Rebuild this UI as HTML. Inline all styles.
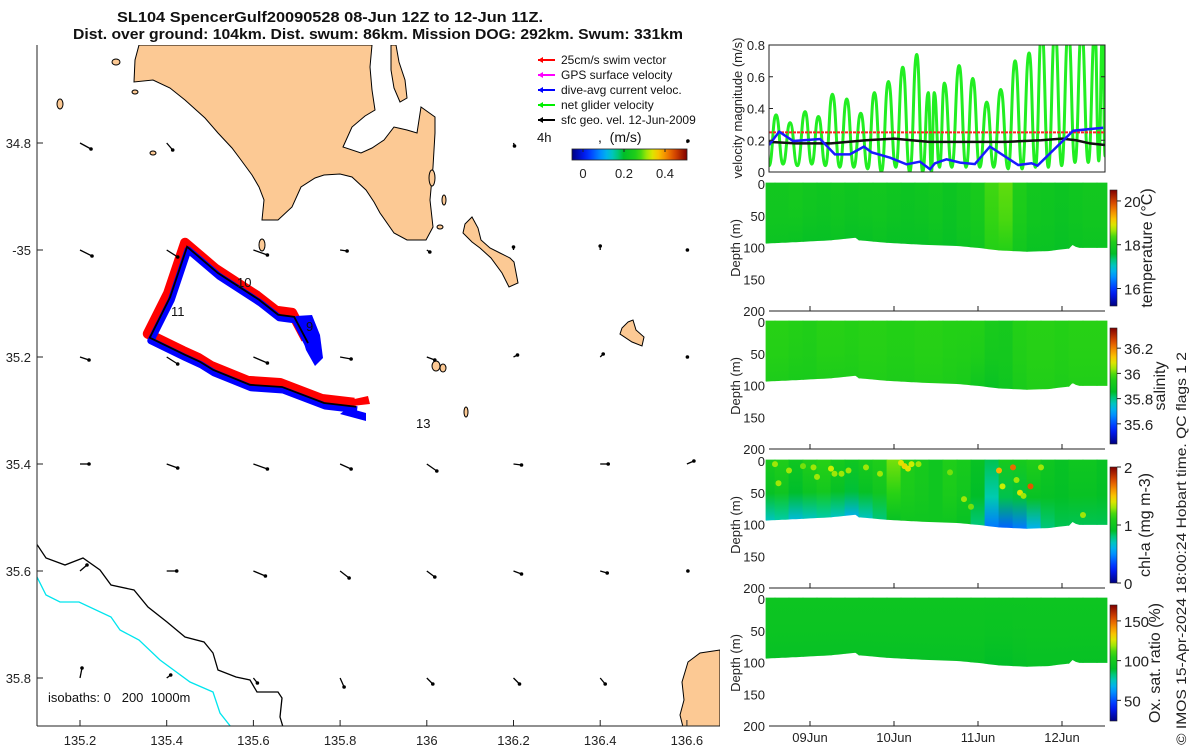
<!DOCTYPE html>
<html><head><meta charset="utf-8">
<style>
html,body{margin:0;padding:0;background:#fff;}
svg{display:block;font-family:"Liberation Sans",sans-serif;}
.tk{font-size:13px;fill:#222;}
</style></head>
<body>
<svg id="root" width="1200" height="750" viewBox="0 0 1200 750" xmlns="http://www.w3.org/2000/svg">
<defs>
  <clipPath id="mapclip"><rect x="37" y="45" width="683" height="681"/></clipPath>
  <clipPath id="velclip"><rect x="769" y="45" width="336" height="127"/></clipPath>
  <linearGradient id="jetH" x1="0" x2="1" y1="0" y2="0"></linearGradient>
  <linearGradient id="jetV" x1="0" x2="0" y1="1" y2="0"></linearGradient>
</defs>
<g font-weight="bold" font-size="14.5" fill="#111">
  <text x="330" y="22" text-anchor="middle" textLength="426" lengthAdjust="spacingAndGlyphs">SL104 SpencerGulf20090528 08-Jun 12Z to 12-Jun 11Z.</text>
  <text x="378" y="39" text-anchor="middle" textLength="610" lengthAdjust="spacingAndGlyphs">Dist. over ground: 104km. Dist. swum: 86km. Mission DOG: 292km. Swum: 331km</text>
</g>
<g id="map"></g>
<g id="vel"></g>
<g id="sections"></g>
</svg>
<script>
// ---------------- DATA ----------------
const lonTicks=[135.2,135.4,135.6,135.8,136,136.2,136.4,136.6];
const lonTickLabels=["135.2","135.4","135.6","135.8","136","136.2","136.4","136.6"];
const latTicks=[34.8,35,35.2,35.4,35.6,35.8];
const latTickLabels=["34.8","-35","35.2","35.4","35.6","35.8"];
const trackLon=[135.726,135.694,135.657,135.613,135.518,135.447,135.408,135.361,135.442,135.477,135.507,135.592,135.666,135.763,135.837];
const trackLat=[35.174,35.125,35.121,35.093,35.043,34.994,35.088,35.164,35.196,35.209,35.224,35.252,35.256,35.286,35.293];
const gridLon=[135.2,135.4,135.6,135.8,136,136.2,136.4,136.6];
const gridLat=[34.8,35,35.2,35.4,35.6,35.8];
const vecU=[[11,6,null,null,null,1,null,1],[12,11,14,7,3,0,0,0.5],[9,11,14,11,8,4,3,0.5],[9,11,14,11,10,8,8,7],[7,10,12,9,8,8,7,1],[2,4,4,4,6,6,5,null]];
const vecV=[[6,7,null,null,null,3,null,-2],[6,7,5,1,2,-3,-4,0],[3,7,6,2,3,-2,-3,0],[0,4,5,5,7,1,0,-3],[-6,0,5,7,6,3,2,0],[-10,-3,5,9,6,6,6,null]];
const vhours=[12.3,15.2,19.2,26.9,31.1,35.4,39.4,41.6,46.9,51.6,55.4,58.3,59.7,63,66.9,71.1,75.4,83.5,87.3,89,92.1,99.2,107.8];
const vblue=[0.17,0.254,0.195,0.208,0.111,0.111,0.16,0.124,0.09,0.048,0.065,0.017,0.055,0.08,0.059,0.05,0.16,0.044,0.055,0.04,0.107,0.26,0.279];
const peakH=[14.3,18.3,22.6,26.4,30.4,34.5,38.5,42.4,46.4,50.5,54.5,57.8,59.5,62.4,66.6,70.5,74.5,78.5,82.6,86.6,90.2,94,97.8,101.6,105.4,107.6];
const peakV=[0.36,0.31,0.38,0.35,0.49,0.46,0.37,0.50,0.57,0.66,0.74,0.50,0.50,0.56,0.67,0.59,0.44,0.52,0.70,0.75,0.9,0.9,0.9,0.9,0.9,0.9];
const troughH=[16.3,20.4,24.5,28.4,32.5,36.5,40.5,44.4,48.5,52.5,56.2,58.7,61,64.5,68.6,72.5,76.5,80.6,84.6,88.4,92.1,95.9,99.7,103.5,106.5];
const troughV=[0.05,0.04,0.05,0.04,0.03,0.03,0.02,0.0,0.03,0.0,0.0,0.0,0.03,0.03,0.03,0.03,0.03,0.02,0.02,0.03,0.03,0.04,0.06,0.06,0.07];
const blackH=[12.3,20,30,40,48,58,66,80,90,96,100,104,108.3];
const blackV=[0.19,0.18,0.18,0.2,0.21,0.19,0.19,0.19,0.2,0.21,0.2,0.18,0.17];
const swimSpeed=0.25;
const velTicks=[0,0.2,0.4,0.6,0.8];
const dateTicks=[24,48,72,96];
const dateLabels=["09Jun","10Jun","11Jun","12Jun"];
const bottomH=[12,20,30,37,38,46,56,66,72,78,86,92,98,98.6,100.5,108.5];
const bottomD=[93,91,88,84,88,92,95,97,100,104,106,105,101,94,100,100];
const colH=[12,16,20,24,28,32,36,40,44,48,52,56,60,64,68,72,76,80,84,88,92,96,100,104,108];
const tempTop=[17.9,17.9,17.95,17.9,17.85,17.9,17.85,17.9,17.9,17.85,17.8,17.85,17.9,17.8,17.9,18.0,18.35,18.45,18.1,17.9,17.85,17.8,17.85,17.9,17.9];
const tempBot=[17.8,17.8,17.75,17.7,17.7,17.75,17.7,17.7,17.75,17.7,17.7,17.7,17.75,17.7,17.8,17.85,18.2,18.2,17.9,17.75,17.75,17.7,17.75,17.8,17.8];
const salTop=[35.97,35.97,35.96,35.95,35.97,35.97,35.96,35.97,35.97,35.96,35.96,35.97,35.97,35.96,35.96,35.96,35.93,35.92,35.96,35.97,35.97,35.96,35.97,35.97,35.97];
const salBot=[35.94,35.94,35.93,35.93,35.94,35.94,35.94,35.95,35.95,35.94,35.94,35.95,35.95,35.94,35.93,35.9,35.88,35.9,35.93,35.95,35.95,35.94,35.95,35.95,35.95];
const chlTop=[1.05,1.1,1.0,1.1,1.15,1.05,1.0,1.05,1.1,1.25,1.1,1.05,1.0,1.1,1.05,0.95,0.85,1.05,1.05,1.1,1.0,0.95,1.0,1.0,0.95];
const chlBot=[0.7,0.75,0.65,0.7,0.75,0.7,0.6,0.7,0.8,0.95,1.0,1.0,1.0,1.0,0.95,0.8,0.45,0.4,0.45,0.6,0.8,0.85,0.85,0.85,0.85];
const oxTop=[96,96,96,96,96,96,96,96,96,96,96,96,96,96,96,96,96,96,96,96,96,96,96,96,96];
const oxBot=[93,93,93,93,93,93,93,93,93,93,93,93,93,93,93,93,90,90,92,93,93,93,93,93,93];
const chlDotH=[14,15,18,22,25,26,30,31,33,35,40,44,50,51,52,53,55,64,68,70,78,79,82,83,84,85,87,90,102];
const chlDotD=[5,35,15,8,10,25,12,20,20,15,10,20,3,8,12,5,5,18,60,72,15,40,10,30,50,55,40,10,85];
const chlDotV=[1.3,1.3,1.3,1.25,1.3,1.3,1.35,1.3,1.3,1.3,1.3,1.3,1.4,1.45,1.4,1.35,1.3,1.25,1.3,1.25,1.55,1.35,1.7,1.3,1.4,1.3,1.75,1.3,1.3];
const tempCb=[15.2,20.5],tempCbTicks=[16,18,20];
const salCb=[35.44,36.36],salCbTicks=[35.6,35.8,36,36.2];
const chlCb=[0,2],chlCbTicks=[0,1,2];
const oxCb=[24,170],oxCbTicks=[50,100,150];
const legendLabels=["25cm/s swim vector","GPS surface velocity","dive-avg current veloc.","net glider velocity","sfc geo. vel. 12-Jun-2009"];
const legendColors=["#ff0000","#ff00ff","#0000ff","#00ee00","#000000"];
const speedCbTicks=[0,0.2,0.4];

// ---------------- HELPERS ----------------
const NS="http://www.w3.org/2000/svg";
function el(tag,attrs,parent){const e=document.createElementNS(NS,tag);for(const k in attrs)e.setAttribute(k,attrs[k]);parent.appendChild(e);return e;}
const stops=[[0,[0,0,128]],[0.12,[0,30,255]],[0.28,[0,170,255]],[0.37,[0,205,170]],[0.45,[0,190,40]],[0.58,[40,210,20]],[0.68,[210,240,0]],[0.76,[255,190,0]],[0.88,[225,80,0]],[1,[128,0,0]]];
function cmap(f){f=Math.max(0,Math.min(1,f));for(let i=1;i<stops.length;i++){if(f<=stops[i][0]){const a=stops[i-1],b=stops[i];const t=(f-a[0])/(b[0]-a[0]);const c=a[1].map((v,j)=>Math.round(v+(b[1][j]-v)*t));return `rgb(${c[0]},${c[1]},${c[2]})`;}}return "rgb(128,0,0)";}
['jetH','jetV'].forEach(id=>{const g=document.getElementById(id);for(let i=0;i<=20;i++){el('stop',{offset:(i/20),'stop-color':cmap(i/20)},g);}});

const mx=lon=>80+(lon-135.2)/0.2*86.7;
const my=lat=>143+(lat-34.8)/0.2*107;
const map=document.getElementById('map');
const mc=el('g',{'clip-path':'url(#mapclip)'},map);

const landStyle={fill:'#fcc994',stroke:'#000','stroke-width':1};
let p=el('polygon',Object.assign({points:"139,45 135,60 134,82 153,80 170,88 185,100 205,118 218,133 232,148 241,160 252,175 259,187 264,200 262,220 278,220 292,207 301,187 315,178 324,175 340,174 352,177 366,190 374,202 380,213 394,233 407,240 426,240 433,227 430,200 433,167 435,133 435,117 421,107 417,133 407,130 394,127 384,140 372,148 361,153 343,147 352,127 365,116 375,110 372,90 370,67 372,45"},landStyle),mc);

p=el('polygon',Object.assign({points:"391,45 396,45 399,62 405,80 407,98 400,102 394,88 391,70"},landStyle),mc);

p=el('polygon',Object.assign({points:"463,233 465,224 472,217 478,228 481,240 490,248 500,253 510,258 514,262 518,283 509,287 502,273 491,258 480,248 472,242"},landStyle),mc);

p=el('polygon',Object.assign({points:"628,322 633,320 636,330 644,337 642,346 632,342 620,334 622,328"},landStyle),mc);

p=el('polygon',Object.assign({points:"683,727 680,715 684,700 682,682 688,662 700,653 720,650 720,727"},landStyle),mc);

[[60,104,3,5],[116,62,4,3],[153,153,3,2],[135,92,3,2],[436,366,4,5],[443,368,3,4],[262,245,3,6],[466,412,2,5],[432,178,3,8],[444,200,2,5],[440,227,3,2]].forEach(e=>{const q=el('ellipse',Object.assign({cx:e[0],cy:e[1],rx:e[2],ry:e[3]},landStyle),mc);});
const iso0=el('polyline',{points:"36,543 46,558 65,565 83,558 100,570 111,585 134,590 148,607 167,622 185,637 204,642 213,653 218,670 236,677 250,680 257,692 278,692 282,698 280,717 283,727",fill:'none',stroke:'#000','stroke-width':1.3},mc);

const iso1=el('polyline',{points:"36,575 46,595 60,602 79,602 111,617 120,630 139,640 160,660 190,682 213,692 220,713 231,727",fill:'none',stroke:'#00e5ee','stroke-width':1.3},mc);

const tpts=trackLon.map((l,i)=>[mx(l),my(trackLat[i])]);
const ptsStr=(dx,dy)=>tpts.map(q=>(q[0]+dx)+','+(q[1]+dy)).join(' ');
let t=el('polyline',{points:ptsStr(-2,-4),fill:'none',stroke:'#ff0000','stroke-width':10,'stroke-linejoin':'round'},mc);

t=el('polyline',{points:ptsStr(1,3),fill:'none',stroke:'#0000ff','stroke-width':7,'stroke-linejoin':'round'},mc);

t=el('polygon',{points:"296,316 312,315 320,335 323,358 315,366 306,350",fill:'#0000ff'},mc);

t=el('polygon',{points:"350,400 368,396 370,404 352,406",fill:'#ff0000'},mc);

t=el('polygon',{points:"348,408 366,413 366,421 340,414",fill:'#0000ff'},mc);

t=el('polyline',{points:ptsStr(0,0),fill:'none',stroke:'#000','stroke-width':1.8},mc);

[["10",237,287],["11",171,316],["9",306,331],["13",416,428]].forEach(d=>{const q=el('text',{x:d[1],y:d[2],'font-size':13,fill:'#111'},mc);q.textContent=d[0];});
gridLat.forEach((la,r)=>gridLon.forEach((lo,c)=>{const u=vecU[r][c],v=vecV[r][c];if(u===null)return;const x0=mx(lo),y0=my(la);const g=el('g',{},mc);el('line',{x1:x0,y1:y0,x2:x0+u,y2:y0+v,stroke:'#000','stroke-width':1.3},g);el('circle',{cx:x0+u,cy:y0+v,r:1.8,fill:'#000'},g);}));
el('line',{x1:37,y1:45,x2:37,y2:726,stroke:'#222','stroke-width':1},map);
el('line',{x1:37,y1:726,x2:720,y2:726,stroke:'#222','stroke-width':1},map);
lonTicks.forEach((v,i)=>{el('line',{x1:mx(v),y1:726,x2:mx(v),y2:720,stroke:'#222'},map);const q=el('text',{x:mx(v),y:745,'text-anchor':'middle',class:'tk'},map);q.textContent=lonTickLabels[i];});
latTicks.forEach((v,i)=>{el('line',{x1:37,y1:my(v),x2:43,y2:my(v),stroke:'#222'},map);const q=el('text',{x:31,y:my(v)+5,'text-anchor':'end',class:'tk'},map);q.textContent=latTickLabels[i];});
let iq=el('text',{x:48,y:702,'font-size':13,fill:'#111',style:'white-space:pre'},map);iq.textContent="isobaths: 0   200  1000m";
const lg=el('g',{},map);
legendLabels.forEach((s,i)=>{const y=64+i*15;const g=el('g',{},lg);el('line',{x1:538,y1:y-4,x2:555,y2:y-4,stroke:legendColors[i],'stroke-width':2},g);el('path',{d:`M538 ${y-4} l5 -3 v6 z`,fill:legendColors[i]},g);const q=el('text',{x:561,y:y,'font-size':12,fill:'#111'},g);q.textContent=s;});
iq=el('text',{x:537,y:142,'font-size':13,fill:'#111'},lg);iq.textContent="4h";
iq=el('text',{x:598,y:142,'font-size':14,fill:'#111',style:'white-space:pre'},lg);iq.textContent=",  (m/s)";
const scb=el('rect',{x:572,y:149,width:115,height:11,fill:'url(#jetH)',stroke:'#222','stroke-width':0.8},lg);
speedCbTicks.forEach(v=>{const x=583+v/0.2*41;el('line',{x1:x,y1:149,x2:x,y2:152,stroke:'#222'},lg);const q=el('text',{x:x,y:178,'text-anchor':'middle',class:'tk'},lg);q.textContent=String(v);});

const vx=h=>810+(h-24)*3.5;
const vy=v=>172-v/0.8*127;
const vel=document.getElementById('vel');
const vc=el('g',{'clip-path':'url(#velclip)'},vel);
let pts=[[12.3,0.04]];peakH.forEach((h,i)=>{pts.push([h,peakV[i]]);if(i<troughH.length)pts.push([troughH[i],troughV[i]]);});pts.push([108.3,0.1]);
let d=`M${vx(pts[0][0])} ${vy(pts[0][1])}`;for(let i=1;i<pts.length;i++){const x0=vx(pts[i-1][0]),x1=vx(pts[i][0]),y0=vy(pts[i-1][1]),y1=vy(pts[i][1]);const m=(x1-x0)/2;d+=` C${x0+m} ${y0} ${x1-m} ${y1} ${x1} ${y1}`;}
let q=el('path',{d:d,fill:'none',stroke:'#22ee22','stroke-width':3},vc);
q=el('line',{x1:769,x2:1105,y1:vy(swimSpeed),y2:vy(swimSpeed),stroke:'#ff2020','stroke-width':2,'stroke-dasharray':'3 1'},vc);
q=el('polyline',{points:blackH.map((h,i)=>vx(h)+','+vy(blackV[i])).join(' '),fill:'none',stroke:'#111','stroke-width':2.5},vc);
q=el('polyline',{points:vhours.map((h,i)=>vx(h)+','+vy(vblue[i])).join(' '),fill:'none',stroke:'#1a1aff','stroke-width':2.5},vc);
el('rect',{x:769,y:45,width:336,height:127,fill:'none',stroke:'#222','stroke-width':1},vel);
velTicks.forEach(v=>{el('line',{x1:769,y1:vy(v),x2:773,y2:vy(v),stroke:'#222'},vel);el('line',{x1:1105,y1:vy(v),x2:1101,y2:vy(v),stroke:'#222'},vel);const t=el('text',{x:765,y:vy(v)+5,'text-anchor':'end',class:'tk'},vel);t.textContent=String(v);});
q=el('text',{x:0,y:0,transform:'translate(742,108) rotate(-90)','text-anchor':'middle','font-size':13,fill:'#222'},vel);q.textContent="velocity magnitude (m/s)";

const sec=document.getElementById('sections');
const panels=[
 {top:184,name:'temperature',topV:tempTop,botV:tempBot,cb:tempCb,ticks:tempCbTicks,labels:["temperature (°C)"],lx:1152},
 {top:322,name:'salinity',topV:salTop,botV:salBot,cb:salCb,ticks:salCbTicks,labels:["salinity"],lx:1165},
 {top:461,name:'chlorophyll',topV:chlTop,botV:chlBot,cb:chlCb,ticks:chlCbTicks,labels:["chl-a (mg m-3)"],lx:1150},
 {top:599,name:'oxygen',topV:oxTop,botV:oxBot,cb:oxCb,ticks:oxCbTicks,labels:["Ox. sat. ratio (%)"],lx:1160}];
function bottomAt(h){for(let i=1;i<bottomH.length;i++){if(h<=bottomH[i]){const t=(h-bottomH[i-1])/(bottomH[i]-bottomH[i-1]);return bottomD[i-1]+t*(bottomD[i]-bottomD[i-1]);}}return bottomD[bottomD.length-1];}
panels.forEach((P,pi)=>{
  const g=el('g',{},sec);
  const dy=dd=>P.top+dd/200*127;
  const fr=v=>(v-P.cb[0])/(P.cb[1]-P.cb[0]);
  colH.forEach((h,i)=>{
    const x0=Math.max(766,vx(h-2)),x1=Math.min(1107,vx(h+2));
    const gid='g'+pi+'_'+i;
    const lgr=el('linearGradient',{id:gid,x1:0,x2:0,y1:0,y2:1},document.querySelector('defs'));
    el('stop',{offset:0,'stop-color':cmap(fr(P.topV[i]))},lgr);el('stop',{offset:0.55,'stop-color':cmap(fr((P.topV[i]*0.7+P.botV[i]*0.3)))},lgr);el('stop',{offset:1,'stop-color':cmap(fr(P.botV[i]))},lgr);
    const steps=4;let pp=[[x0,P.top-1]];pp.push([x1,P.top-1]);
    for(let k=steps;k>=0;k--){const hh=h-2+4*k/steps;pp.push([Math.min(1107,Math.max(766,vx(hh))),dy(bottomAt(hh))]);}
    const c=el('polygon',{points:pp.map(q=>q[0].toFixed(1)+','+q[1].toFixed(1)).join(' '),fill:`url(#${gid})`,stroke:`url(#${gid})`,'stroke-width':0.8},g);
    
  });
  if(P.name==='chlorophyll'){chlDotH.forEach((h,i)=>{const c=el('circle',{cx:vx(h),cy:dy(chlDotD[i]),r:3,fill:cmap(fr(chlDotV[i]))},g);});}
  el('line',{x1:769,y1:P.top+127,x2:1105,y2:P.top+127,stroke:'#222'},g);
  [0,50,100,150,200].forEach(v=>{const t=el('text',{x:765,y:dy(v)+5,'text-anchor':'end',class:'tk'},g);t.textContent=String(v);});
  dateTicks.forEach(h=>el('line',{x1:vx(h),y1:P.top+127,x2:vx(h),y2:P.top+122,stroke:'#222'},g));
  const yt=el('text',{x:0,y:0,transform:`translate(740,${P.top+64}) rotate(-90)`,'text-anchor':'middle','font-size':13,fill:'#222'},g);yt.textContent="Depth (m)";
  const cy0=P.top+6,cy1=P.top+122;
  const cb=el('rect',{x:1110,y:cy0,width:7,height:cy1-cy0,fill:'url(#jetV)',stroke:'#222','stroke-width':0.6},g);
  P.ticks.forEach(v=>{const y=cy1-fr(v)*(cy1-cy0);el('line',{x1:1117,y1:y,x2:1121,y2:y,stroke:'#222'},g);const t=el('text',{x:1124,y:y+6,'font-size':15,fill:'#222'},g);t.textContent=String(v);});
  const lt=el('text',{x:0,y:0,transform:`translate(${P.lx},${P.top+64}) rotate(-90)`,'text-anchor':'middle','font-size':16,fill:'#222'},g);lt.textContent=P.labels[0];
});
dateTicks.forEach((h,i)=>{const t=el('text',{x:vx(h),y:742,'text-anchor':'middle',class:'tk'},sec);t.textContent=dateLabels[i];});
q=el('text',{x:0,y:0,transform:'translate(1186,745) rotate(-90)','font-size':14,fill:'#222',textLength:393,lengthAdjust:'spacingAndGlyphs'},sec);q.textContent="© IMOS 15-Apr-2024 18:00:24 Hobart time. QC flags 1  2";
</script>
</body></html>
